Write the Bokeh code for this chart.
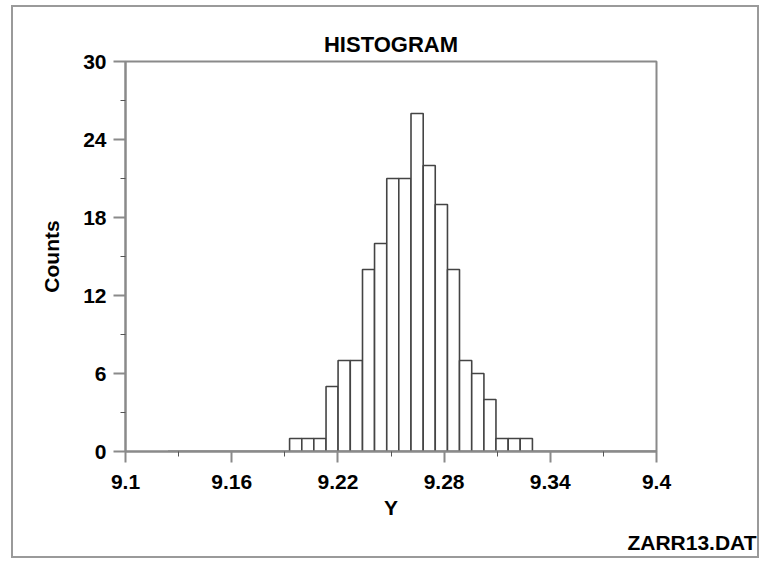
from bokeh.plotting import figure
from bokeh.models import FixedTicker, Range1d, Title
from bokeh.embed import file_html
from bokeh.resources import INLINE

# ---- data ----
counts = [1, 1, 1, 5, 7, 7, 14, 16, 21, 21, 26, 22, 19, 14, 7, 6, 4, 1, 1, 1]
bin_edges = [9.1927, 9.1996, 9.2064, 9.2133, 9.2201, 9.2270, 9.2339, 9.2407,
             9.2476, 9.2544, 9.2613, 9.2682, 9.2750, 9.2819, 9.2887, 9.2956,
             9.3025, 9.3093, 9.3162, 9.3230, 9.3299]
x_ticks = [9.1, 9.16, 9.22, 9.28, 9.34, 9.4]
x_tick_labels = ["9.1", "9.16", "9.22", "9.28", "9.34", "9.4"]
x_minor_ticks = [9.13, 9.19, 9.25, 9.31, 9.37]
y_ticks = [0, 6, 12, 18, 24, 30]
y_tick_labels = ["0", "6", "12", "18", "24", "30"]
y_minor_ticks = [3, 9, 15, 21, 27]
zero_line_x = [9.124, 9.4]
zero_line_y = [0, 0]
x_limits = [9.1, 9.4]
y_limits = [0, 30]

FONT = "Liberation Sans"
AXIS_GREY = "#8a8a8a"

p = figure(width=748, height=553, margin=(5, 0, 0, 11),
           styles={"border": "2px solid #9a9a9a"},
           x_range=Range1d(*x_limits), y_range=Range1d(*y_limits),
           output_backend="svg", toolbar_location=None,
           min_border_left=112, min_border_right=105,
           min_border_top=54, min_border_bottom=108)

p.title.text = "HISTOGRAM"
p.title.align = "center"
p.title.text_font = FONT
p.title.text_font_size = "22px"
p.title.text_font_style = "bold"
p.title.text_color = "black"
p.title.standoff = 10

p.grid.visible = False
p.background_fill_color = "white"
p.border_fill_color = "white"
p.outline_line_color = AXIS_GREY
p.outline_line_width = 2

p.quad(left=bin_edges[:-1], right=bin_edges[1:], bottom=0, top=counts,
       fill_color="white", line_color="#444444", line_width=1.6)
p.line(zero_line_x, zero_line_y, line_color="#777777", line_width=2)

for ax in (p.xaxis[0], p.yaxis[0]):
    ax.axis_line_color = AXIS_GREY
    ax.axis_line_width = 2
    ax.major_tick_line_color = AXIS_GREY
    ax.minor_tick_line_color = "#555555"
    ax.major_tick_line_width = 2
    ax.minor_tick_line_width = 1
    ax.major_tick_in = 0
    ax.minor_tick_in = 0
    ax.major_label_text_font = FONT
    ax.major_label_text_font_size = "21px"
    ax.major_label_text_font_style = "bold"
    ax.major_label_text_color = "black"
    ax.axis_label_text_font = FONT
    ax.axis_label_text_font_size = "21px"
    ax.axis_label_text_font_style = "bold"
    ax.axis_label_text_color = "black"

p.xaxis.ticker = FixedTicker(ticks=x_ticks, minor_ticks=x_minor_ticks)
p.xaxis.major_label_overrides = dict(zip(x_ticks, x_tick_labels))
p.xaxis.major_tick_out = 11
p.xaxis.minor_tick_out = 5
p.xaxis.major_label_standoff = 12
p.xaxis.axis_label = "Y"
p.xaxis.axis_label_standoff = 4

p.yaxis.ticker = FixedTicker(ticks=y_ticks, minor_ticks=y_minor_ticks)
p.yaxis.major_label_overrides = dict(zip(y_ticks, y_tick_labels))
p.yaxis.major_tick_out = 12
p.yaxis.minor_tick_out = 5
p.yaxis.major_label_standoff = 7
p.yaxis.axis_label = "Counts"
p.yaxis.axis_label_standoff = 17

foot = Title(text="ZARR13.DAT", align="right", text_font=FONT,
             text_font_size="21px", text_font_style="bold", text_color="black",
             text_line_height=0.9, offset=-100, standoff=14)
p.add_layout(foot, "below")

open("out.html", "w").write(file_html(p, INLINE))
